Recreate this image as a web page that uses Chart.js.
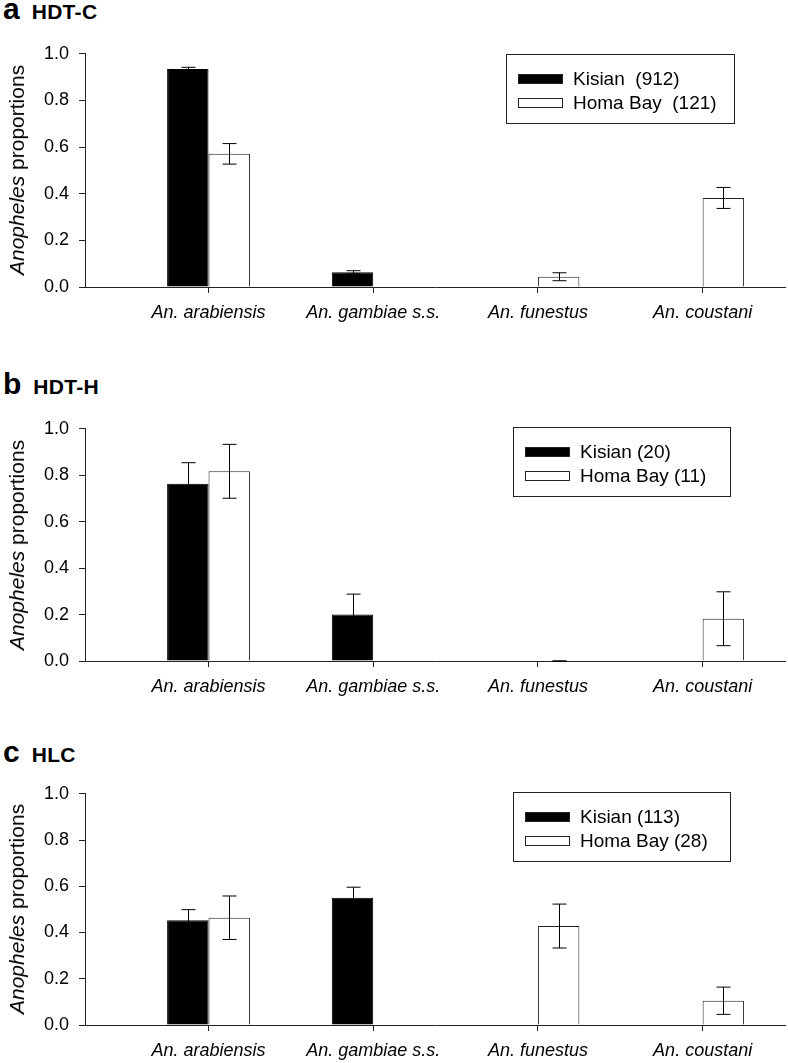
<!DOCTYPE html>
<html>
<head>
<meta charset="utf-8">
<title>Anopheles proportions by trap</title>
<script src="https://cdn.jsdelivr.net/npm/chart.js@4.4.0/dist/chart.umd.min.js"></script>
<style>
  body { margin: 0; background: #fff; width: 788px; height: 1063px; position: relative; overflow: hidden;
         font-family: "Liberation Sans", Arial, Helvetica, sans-serif; color: #000; }
  canvas { position: absolute; left: 0; }
  .title { position: absolute; left: 3px; white-space: nowrap; font-weight: bold; line-height: 30px; }
  .title .letter { font-size: 30px; }
  .title .name { font-size: 21px; margin-left: 12px; letter-spacing: 0.3px; }
  .ytitle { position: absolute; left: 17px; white-space: nowrap; font-size: 21px;
            transform: translate(-50%, -50%) rotate(-90deg); }
  .legend { position: absolute; border: 1px solid #222; box-sizing: border-box; height: 70px;
            padding: 12px 0 0 11px; font-size: 19px; }
  .legend .row { height: 24px; line-height: 24px; white-space: pre; }
  .legend .swatch { display: inline-block; width: 45px; height: 10px; box-sizing: border-box;
                    border: 1px solid #222; vertical-align: middle; margin-right: 10px; position: relative; top: -1px; }
</style>
</head>
<body>
<script>
// categories on the x axis
const categories = ["An. arabiensis", "An. gambiae s.s.", "An. funestus", "An. coustani"];
const yTicks = [0, 0.2, 0.4, 0.6, 0.8, 1.0];

// a  HDT-C
const hdtcKisian = [0.935, 0.063, 0, 0];
const hdtcKisianErr = [0.007, 0.007, null, null];
const hdtcHoma = [0.571, 0, 0.044, 0.382];
const hdtcHomaErr = [0.044, null, 0.017, 0.045];

// b  HDT-H
const hdthKisian = [0.763, 0.2, 0, 0];
const hdthKisianErr = [0.091, 0.088, null, null];
const hdthHoma = [0.817, 0, 0, 0.182];
const hdthHomaErr = [0.116, null, 0, 0.116];

// c  HLC
const hlcKisian = [0.453, 0.55, 0, 0];
const hlcKisianErr = [0.046, 0.046, null, null];
const hlcHoma = [0.464, 0, 0.428, 0.105];
const hlcHomaErr = [0.094, null, 0.095, 0.059];

const panels = [
  { letter: "a", name: "HDT-C", kisian: hdtcKisian, kisianErr: hdtcKisianErr, homa: hdtcHoma, homaErr: hdtcHomaErr,
    labels: ["Kisian  (912)", "Homa Bay  (121)"], plotTop: 53, plotH: 234, titleTop: -6,
    legend: { left: 506, top: 54, width: 229 } },
  { letter: "b", name: "HDT-H", kisian: hdthKisian, kisianErr: hdthKisianErr, homa: hdthHoma, homaErr: hdthHomaErr,
    labels: ["Kisian (20)", "Homa Bay (11)"], plotTop: 428, plotH: 233, titleTop: 369,
    legend: { left: 513, top: 427, width: 218 } },
  { letter: "c", name: "HLC", kisian: hlcKisian, kisianErr: hlcKisianErr, homa: hlcHoma, homaErr: hlcHomaErr,
    labels: ["Kisian (113)", "Homa Bay (28)"], plotTop: 793, plotH: 232, titleTop: 737,
    legend: { left: 513, top: 792, width: 218 } }
];

const FONT = '"Liberation Sans", Arial, Helvetica, sans-serif';
const LINE = '#222';

// draws the error bars from each dataset's errors array
const errorBars = {
  id: 'errorBars',
  afterDatasetsDraw(chart) {
    const ctx = chart.ctx;
    const yScale = chart.scales.y;
    ctx.save();
    ctx.strokeStyle = '#000';
    ctx.lineWidth = 1;
    chart.data.datasets.forEach((ds, di) => {
      const meta = chart.getDatasetMeta(di);
      meta.data.forEach((bar, i) => {
        const err = ds.errors[i];
        if (err == null) return;
        const v = ds.data[i].y;
        const x = Math.round(bar.x) + 0.5;
        const top = yScale.getPixelForValue(v + err);
        const bot = yScale.getPixelForValue(v - err);
        ctx.beginPath();
        ctx.moveTo(x, top); ctx.lineTo(x, bot);
        ctx.moveTo(x - 7, top); ctx.lineTo(x + 7, top);
        ctx.moveTo(x - 7, bot); ctx.lineTo(x + 7, bot);
        ctx.stroke();
      });
    });
    ctx.restore();
  }
};

function toPoints(values) {
  return values.map((v, i) => ({ x: i, y: v }));
}

panels.forEach(p => {
  // panel title
  const t = document.createElement('div');
  t.className = 'title';
  t.style.top = p.titleTop + 'px';
  t.innerHTML = '<span class="letter">' + p.letter + '</span><span class="name">' + p.name + '</span>';
  document.body.appendChild(t);

  // canvas
  const padTop = 20, axisH = 38;
  const canvas = document.createElement('canvas');
  canvas.style.top = (p.plotTop - padTop) + 'px';
  canvas.style.width = '788px';
  canvas.style.height = (padTop + p.plotH + axisH) + 'px';
  canvas.width = 788;
  canvas.height = padTop + p.plotH + axisH;
  document.body.appendChild(canvas);

  // y axis title
  const yt = document.createElement('div');
  yt.className = 'ytitle';
  yt.style.top = (p.plotTop + p.plotH / 2) + 'px';
  yt.innerHTML = '<i>Anopheles</i> proportions';
  document.body.appendChild(yt);

  // legend
  const lg = document.createElement('div');
  lg.className = 'legend';
  lg.style.left = p.legend.left + 'px';
  lg.style.top = p.legend.top + 'px';
  lg.style.width = p.legend.width + 'px';
  lg.innerHTML =
    '<div class="row"><span class="swatch" style="background:#000"></span>' + p.labels[0] + '</div>' +
    '<div class="row"><span class="swatch" style="background:#fff"></span>' + p.labels[1] + '</div>';
  document.body.appendChild(lg);

  new Chart(canvas.getContext('2d'), {
    type: 'bar',
    data: {
      datasets: [
        { label: p.labels[0], data: toPoints(p.kisian), errors: p.kisianErr,
          backgroundColor: '#000', borderColor: '#000', borderWidth: 1 },
        { label: p.labels[1], data: toPoints(p.homa), errors: p.homaErr,
          backgroundColor: '#fff', borderColor: LINE, borderWidth: 1 }
      ]
    },
    options: {
      responsive: false,
      animation: false,
      events: [],
      layout: { padding: { top: padTop, right: 3, left: 0, bottom: 0 } },
      datasets: { bar: { categoryPercentage: 0.503, barPercentage: 1, inflateAmount: 0 } },
      plugins: { legend: { display: false }, tooltip: { enabled: false } },
      scales: {
        x: {
          type: 'linear',
          min: -0.75,
          max: 3.5,
          offset: false,
          afterFit: s => { s.height = axisH; },
          afterBuildTicks: s => { s.ticks = categories.map((c, i) => ({ value: i })); },
          grid: { offset: false, drawOnChartArea: false, drawTicks: true, tickLength: 6, color: LINE },
          border: { display: true, color: LINE, width: 1 },
          ticks: {
            padding: 9,
            color: '#000',
            maxRotation: 0,
            autoSkip: false,
            font: { family: FONT, size: 18, style: 'italic' },
            callback: v => categories[Math.round(v)]
          }
        },
        y: {
          min: 0,
          max: 1,
          afterFit: s => { s.width = 85; },
          afterBuildTicks: s => { s.ticks = yTicks.map(v => ({ value: v })); },
          grid: { drawOnChartArea: false, drawTicks: true, tickLength: 6, color: LINE },
          border: { display: true, color: LINE, width: 1 },
          ticks: {
            padding: 10,
            color: '#000',
            font: { family: FONT, size: 18 },
            callback: v => v.toFixed(1)
          }
        }
      }
    },
    plugins: [errorBars]
  });
});
</script>
</body>
</html>
